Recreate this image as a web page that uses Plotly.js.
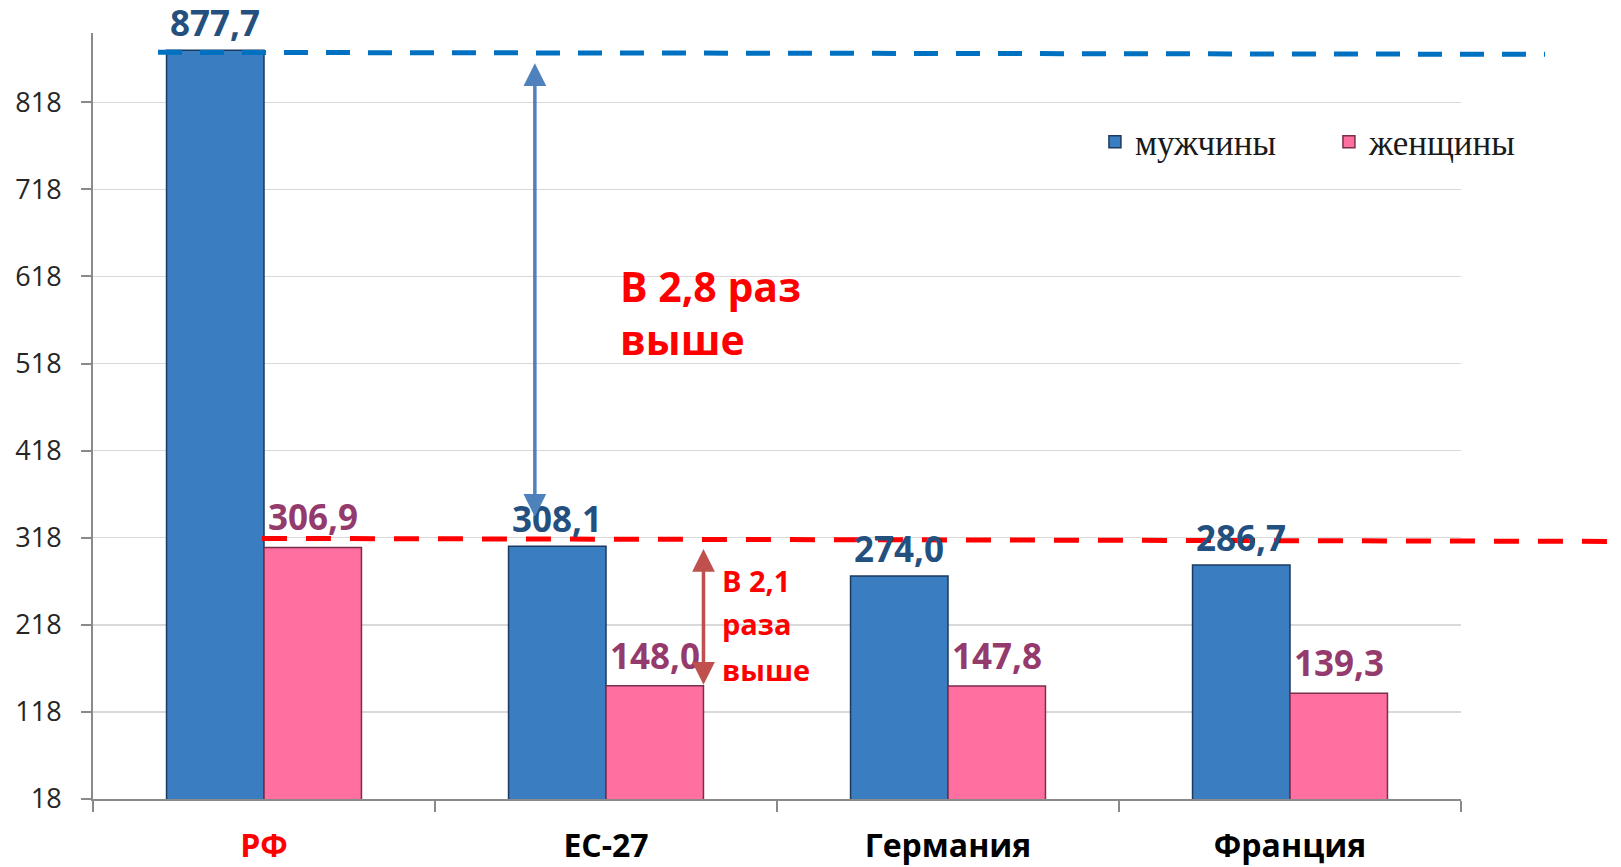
<!DOCTYPE html>
<html>
<head>
<meta charset="utf-8">
<script src="https://cdn.plot.ly/plotly-3.0.1.min.js"></script>
<style>
html,body{margin:0;padding:0;background:#ffffff;}
#chart{width:1621px;height:867px;}
</style>
</head>
<body>
<div id="chart"></div>
<script>
// ---- data ----
const categories = ['РФ', 'ЕС-27', 'Германия', 'Франция'];
const men = [877.7, 308.1, 274.0, 286.7];
const women = [306.9, 148.0, 147.8, 139.3];
const seriesNames = ['мужчины', 'женщины'];
const yTicks = [18, 118, 218, 318, 418, 518, 618, 718, 818];
const noteMen = 'В 2,8 раз<br>выше';
const noteWomen = ['В 2,1', 'раза', 'выше'];

// ---- style ----
const BARGAP = 0.43;
const half = (1 - BARGAP) / 4;
const menColor = '#3a7dc1', womenColor = '#ff6fa0';
const menLabel = '#24507f', womenLabel = '#953a6d';
const fmt = v => v.toFixed(1).replace('.', ',');

const traces = [
  {type: 'bar', name: seriesNames[0], x: categories, y: men,
   marker: {color: menColor, line: {color: '#1c3a5e', width: 1.5}}, hoverinfo: 'skip'},
  {type: 'bar', name: seriesNames[1], x: categories, y: women,
   marker: {color: womenColor, line: {color: '#7a2d4c', width: 1.5}}, hoverinfo: 'skip'}
];

const ann = [];
men.forEach((v, i) => ann.push({
  x: i - half, y: v, xref: 'x', yref: 'y', text: '<b>' + fmt(v) + '</b>', showarrow: false,
  yanchor: 'bottom', yshift: 2, font: {family: 'Open Sans', size: 35, color: menLabel}
}));
women.forEach((v, i) => ann.push({
  x: i + half, y: v, xref: 'x', yref: 'y', text: '<b>' + fmt(v) + '</b>', showarrow: false,
  yanchor: 'bottom', yshift: 5, font: {family: 'Open Sans', size: 35, color: womenLabel}
}));

// arrows
ann.push({
  x: 0.792, y: men[0], ax: 0.792, ay: men[1], xref: 'x', yref: 'y', axref: 'x', ayref: 'y',
  text: '', showarrow: true, arrowside: 'end+start', arrowhead: 2, startarrowhead: 2,
  arrowsize: 1.3, startarrowsize: 1.3, arrowwidth: 3.5, arrowcolor: '#4f81bd',
  standoff: 13, startstandoff: 28
});
ann.push({
  x: 1 + 2 * half, y: women[1], ax: 1 + 2 * half, ay: women[0], xref: 'x', yref: 'y', axref: 'x', ayref: 'y',
  text: '', showarrow: true, arrowside: 'end+start', arrowhead: 2, startarrowhead: 2,
  arrowsize: 1.3, startarrowsize: 1.3, arrowwidth: 3.5, arrowcolor: '#c0504d',
  standoff: 1, startstandoff: 0
});

// notes
ann.push({
  x: 0.3838, y: 0.6345, xref: 'paper', yref: 'paper', xanchor: 'left', yanchor: 'middle', align: 'left',
  text: '<b>' + noteMen + '</b>', showarrow: false,
  font: {family: 'Open Sans', size: 41, color: '#ff0000'}
});
const noteY = [0.2859, 0.2285, 0.1697];
noteWomen.forEach((t, k) => ann.push({
  x: 0.4583, y: noteY[k], xref: 'paper', yref: 'paper', xanchor: 'left', yanchor: 'middle', align: 'left',
  text: '<b>' + t + '</b>', showarrow: false,
  font: {family: 'Open Sans', size: 29, color: '#ff0000'}
}));

const shapes = [
  {type: 'line', xref: 'paper', yref: 'y', ysizemode: 'pixel', yanchor: men[0],
   x0: 0.0475, x1: 1.0614, y0: -2, y1: -4,
   line: {color: '#0070c0', width: 5, dash: '24px,18px'}},
  {type: 'line', xref: 'paper', yref: 'y', ysizemode: 'pixel', yanchor: women[0],
   x0: 0.1235, x1: 1.1126, y0: 9, y1: 6,
   line: {color: '#ff0000', width: 5, dash: '25px,19px'}}
];

const ticktext = categories.map((c, i) =>
  i === 0 ? '<span style="color:#ff0000">' + c + '</span>' : c);

const layout = {
  width: 1621, height: 867,
  margin: {l: 93, r: 160, t: 33, b: 68, autoexpand: false},
  paper_bgcolor: '#ffffff', plot_bgcolor: '#ffffff',
  barmode: 'group', bargap: BARGAP, bargroupgap: 0,
  showlegend: true,
  legend: {
    orientation: 'h', x: 0.7324, y: 0.8577, xanchor: 'left', yanchor: 'middle',
    bgcolor: 'rgba(0,0,0,0)', entrywidth: 189, entrywidthmode: 'pixels',
    font: {family: 'Liberation Serif', size: 35, color: '#1a1a1a'}
  },
  xaxis: {
    type: 'category', tickmode: 'array', tickvals: categories, ticktext: ticktext,
    tickson: 'boundaries', ticks: 'outside', ticklen: 11, tickwidth: 2, tickcolor: '#8a8a8a',
    showline: true, linecolor: '#8a8a8a', linewidth: 2, showgrid: false,
    ticklabelstandoff: 18,
    tickfont: {family: 'Open Sans', size: 32, color: '#000000', weight: 700}
  },
  yaxis: {
    range: [18, 897.6], tickmode: 'array', tickvals: yTicks,
    ticks: 'outside', ticklen: 10, tickwidth: 2, tickcolor: '#8a8a8a',
    showline: true, linecolor: '#8a8a8a', linewidth: 2,
    showgrid: true, gridcolor: '#d9d9d9', gridwidth: 1.5, zeroline: false,
    ticklabelstandoff: 14,
    tickfont: {family: 'Open Sans', size: 27, color: '#262626'}
  },
  annotations: ann,
  shapes: shapes
};

Plotly.newPlot('chart', traces, layout, {displayModeBar: false, staticPlot: true});
</script>
</body>
</html>
